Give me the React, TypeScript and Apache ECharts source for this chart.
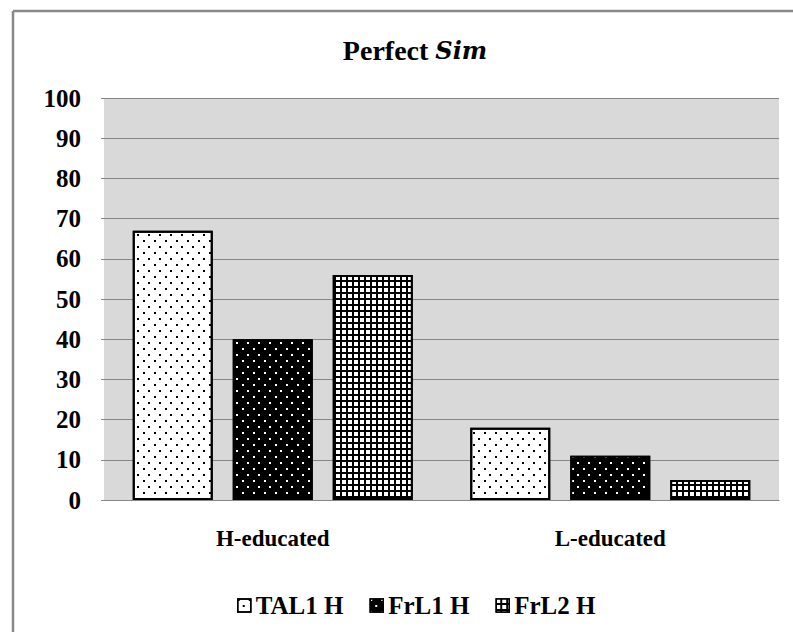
import React, { useEffect, useRef } from "react";
import * as echarts from "echarts";

const categories = ["H-educated", "L-educated"];
const seriesNames = ["TAL1 H", "FrL1 H", "FrL2 H"];
const tal1Values = [67, 18];
const frl1Values = [40, 11];
const frl2Values = [56, 5];
const yTicks = [0, 10, 20, 30, 40, 50, 60, 70, 80, 90, 100];

const FONT = "Liberation Serif";

export default function App() {
  const ref = useRef<HTMLDivElement>(null);
  useEffect(() => {
    if (!ref.current) return;
    const chart = echarts.init(ref.current, null, { renderer: "svg" });
    const dotDecal = (color: string) => ({
      symbol: "rect",
      symbolSize: 1,
      color,
      dashArrayX: [
        [1.5, 8.5],
        [0, 5, 1.5, 3.5],
      ],
      dashArrayY: [1.5, 3.5, 1.5, 3.5],
    });
    const gridDecal = {
      symbol: "rect",
      symbolSize: 1,
      color: "#fff",
      dashArrayX: [3.5, 1.3],
      dashArrayY: [3.3, 1.4],
    };
    const styles = [
      { color: "#fff", decal: dotDecal("#000") },
      { color: "#000", decal: dotDecal("#fff") },
      { color: "#000", decal: gridDecal },
    ];
    const values = [tal1Values, frl1Values, frl2Values];
    chart.setOption({
      animation: false,
      backgroundColor: "#fff",
      title: {
        text: "{a|Perfect }{b|Sim}",
        left: 410,
        top: 31,
        textAlign: "center",
        textStyle: {
          rich: {
            a: { fontFamily: FONT, fontSize: 28, fontWeight: "bold", color: "#000" },
            b: { fontFamily: "DejaVu Serif", fontSize: 24, fontWeight: "bold", fontStyle: "italic", color: "#000" },
          },
        },
      },
      legend: {
        data: seriesNames,
        left: 232,
        top: 588,
        itemWidth: 13,
        itemHeight: 13,
        itemGap: 26,
        icon: "rect",
        itemStyle: { borderColor: "#000", borderWidth: 1.5 },
        textStyle: { fontFamily: FONT, fontSize: 25, fontWeight: "bold", color: "#000" },
      },
      grid: {
        left: 104,
        right: 14,
        top: 98,
        bottom: 132,
        show: true,
        backgroundColor: "#d9d9d9",
        borderWidth: 0,
      },
      xAxis: {
        type: "category",
        data: categories,
        axisLine: { show: true, lineStyle: { color: "#868686", width: 1 } },
        axisTick: { show: false },
        axisLabel: {
          margin: 27,
          fontFamily: FONT,
          fontSize: 23,
          fontWeight: "bold",
          color: "#000",
        },
      },
      yAxis: {
        type: "value",
        min: yTicks[0],
        max: yTicks[yTicks.length - 1],
        interval: 10,
        axisLine: { show: false },
        axisTick: { show: true, length: 3, lineStyle: { color: "#868686" } },
        splitLine: { show: true, lineStyle: { color: "#868686", width: 1 } },
        axisLabel: {
          margin: 23,
          fontFamily: FONT,
          fontSize: 25,
          fontWeight: "bold",
          color: "#000",
        },
      },
      graphic: [
        { type: "line", shape: { x1: 13, y1: 11, x2: 793, y2: 11 }, style: { stroke: "#888", lineWidth: 2.5 } },
        { type: "line", shape: { x1: 13, y1: 11, x2: 13, y2: 632 }, style: { stroke: "#888", lineWidth: 2.5 } },
      ],
      series: seriesNames.map((name, i) => ({
        name,
        type: "bar",
        data: values[i],
        barWidth: 80,
        barGap: "25%",
        itemStyle: {
          color: styles[i].color,
          decal: styles[i].decal,
          borderColor: "#000",
          borderWidth: 2,
        },
      })),
    });
    return () => chart.dispose();
  }, []);
  return (
    <div
      ref={ref}
      style={{ position: "fixed", left: 0, top: 0, width: 793, height: 632 }}
    />
  );
}
